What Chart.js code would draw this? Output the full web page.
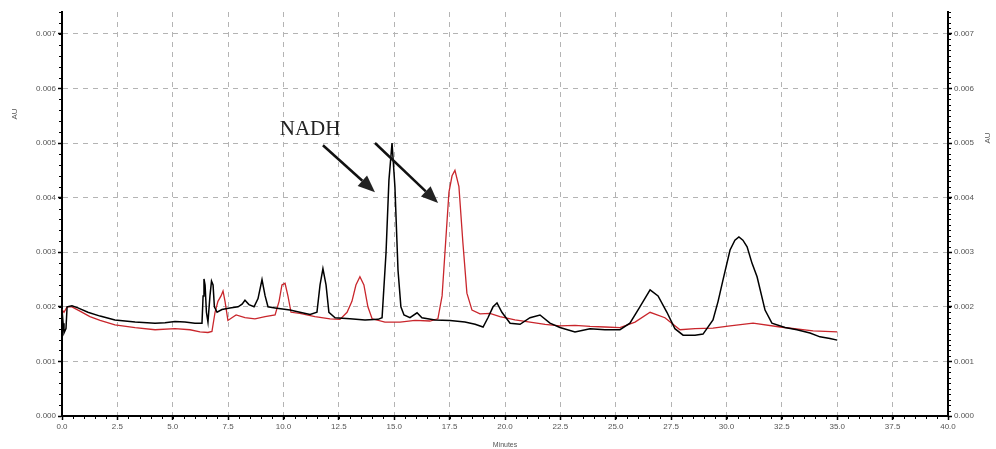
<!DOCTYPE html>
<html>
<head>
<meta charset="utf-8">
<script src="https://cdn.jsdelivr.net/npm/chart.js@4.4.1/dist/chart.umd.min.js"></script>
<style>
  html, body { margin: 0; padding: 0; background: #fff; }
  #wrap { width: 996px; height: 449px; position: relative; }
</style>
</head>
<body>
<div id="wrap"><canvas id="chart"></canvas></div>
<script>
// Chromatogram: two runs, absorbance (AU) vs retention time (minutes)

// black run
const blackTime = [0, 0.05, 0.09, 0.18, 0.23, 0.45, 0.72, 1.17, 1.72, 2.39, 3.3, 4.2, 4.65, 5.1, 5.55, 6.0,
  6.32, 6.37, 6.41, 6.46, 6.52, 6.59, 6.68, 6.75, 6.82, 6.88, 7.0, 7.22, 7.58, 7.95, 8.13, 8.26, 8.44, 8.67,
  8.85, 9.03, 9.17, 9.3, 9.62, 10.29, 10.74, 11.2, 11.51, 11.65, 11.78, 11.92, 12.05, 12.33, 13.0, 13.68,
  14.27, 14.45, 14.63, 14.76, 14.9, 15.03, 15.17, 15.3, 15.44, 15.71, 16.03, 16.25, 16.84, 17.52, 18.19,
  18.65, 19.01, 19.23, 19.46, 19.64, 19.86, 20.23, 20.68, 21.13, 21.58, 22.03, 22.48, 23.16, 23.84, 24.51,
  25.19, 25.64, 26.09, 26.55, 26.91, 27.31, 27.67, 28.04, 28.58, 28.94, 29.39, 29.62, 29.84, 30.16, 30.38,
  30.56, 30.74, 30.93, 31.15, 31.38, 31.74, 32.05, 32.64, 33.18, 33.77, 34.22, 34.67, 35.0];
const blackAU = [0.00195, 0.0017, 0.00152, 0.0016, 0.0020, 0.00202, 0.00198, 0.0019, 0.00183, 0.00176,
  0.00172, 0.0017, 0.00171, 0.00173, 0.00172, 0.0017, 0.0017, 0.0022, 0.00251, 0.0024, 0.0019, 0.00172,
  0.0022, 0.00247, 0.0024, 0.0020, 0.0019, 0.00195, 0.00198, 0.002, 0.00205, 0.00212, 0.00204, 0.002,
  0.00215, 0.0025, 0.0022, 0.002, 0.00198, 0.00194, 0.0019, 0.00186, 0.0019, 0.0024, 0.0027, 0.0024, 0.0019,
  0.0018, 0.00178, 0.00176, 0.00177, 0.0018, 0.0030, 0.00432, 0.0050, 0.0042, 0.00267, 0.0020, 0.00185,
  0.0018, 0.00189, 0.0018, 0.00176, 0.00175, 0.00172, 0.00168, 0.00163, 0.0018, 0.002, 0.00207, 0.0019,
  0.0017, 0.00168, 0.0018, 0.00185, 0.0017, 0.00162, 0.00154, 0.0016, 0.00158, 0.00158, 0.0017, 0.002,
  0.00231, 0.0022, 0.0019, 0.0016, 0.00148, 0.00148, 0.0015, 0.00176, 0.0021, 0.00249, 0.00304, 0.00322,
  0.00328, 0.00322, 0.0031, 0.0028, 0.00255, 0.00194, 0.0017, 0.00162, 0.00158, 0.00152, 0.00145, 0.00142,
  0.00139];

// red run
const redTime = [0, 0.09, 0.23, 0.45, 0.81, 1.26, 1.72, 2.39, 3.3, 4.2, 5.1, 5.78, 6.23, 6.59, 6.77, 6.91,
  7.04, 7.18, 7.27, 7.36, 7.49, 7.67, 7.86, 8.26, 8.71, 9.17, 9.62, 9.8, 9.93, 10.07, 10.2, 10.34, 10.74,
  11.42, 12.1, 12.55, 12.87, 13.09, 13.27, 13.45, 13.63, 13.81, 14.0, 14.58, 15.26, 15.94, 16.61, 16.97,
  17.16, 17.29, 17.47, 17.61, 17.74, 17.92, 18.1, 18.28, 18.51, 18.87, 19.32, 19.77, 20.45, 21.13, 21.81,
  22.48, 23.16, 23.84, 24.51, 25.19, 25.87, 26.55, 27.22, 27.9, 28.58, 29.39, 30.16, 31.2, 32.42, 33.91, 35.0];
const redAU = [0.00195, 0.0019, 0.002, 0.002, 0.00192, 0.00182, 0.00175, 0.00167, 0.00162, 0.00158, 0.0016,
  0.00158, 0.00154, 0.00153, 0.00155, 0.0019, 0.0021, 0.0022, 0.00229, 0.0021, 0.00175, 0.0018, 0.00185,
  0.0018, 0.00178, 0.00182, 0.00185, 0.0021, 0.0024, 0.00243, 0.0022, 0.0019, 0.00188, 0.00182, 0.00178,
  0.00177, 0.0019, 0.0021, 0.0024, 0.00255, 0.0024, 0.002, 0.00178, 0.00172, 0.00172, 0.00175, 0.00174,
  0.00178, 0.0022, 0.003, 0.0041, 0.0044, 0.0045, 0.0042, 0.00317, 0.00225, 0.00194, 0.00187, 0.00188,
  0.00182, 0.00176, 0.00172, 0.00168, 0.00165, 0.00166, 0.00164, 0.00163, 0.00162, 0.00172, 0.0019, 0.0018,
  0.00158, 0.0016, 0.00161, 0.00165, 0.0017, 0.00163, 0.00156, 0.00154];

// axes
const xRange = [0, 40];
const xStep = 2.5;
const yRange = [0, 0.0074];
const yStep = 0.001;
const xTitle = 'Minutes';
const yTitle = 'AU';

// annotation (data coordinates)
const noteText = 'NADH';
const notePos = [11.2, 0.00524];
const noteArrows = [
  [11.78, 0.00496, 14.13, 0.0041],
  [14.13, 0.0050, 16.98, 0.0039]
];

const zip = (t, v) => t.map((x, i) => ({ x: x, y: v[i] }));

const tickFont = { family: 'Liberation Sans, Arial, sans-serif', size: 8 };
const tickColor = '#555';
const gridColor = '#b4b4b4';

// fixed axis sizes so the plot area sits where the original one does
function fixWidth(w) { return s => { s.width = w; }; }

const minorTicks = {
  id: 'minorTicks',
  afterDraw(chart) {
    const ctx = chart.ctx;
    const x = chart.scales.x, yl = chart.scales.y, yr = chart.scales.y2;
    const area = chart.chartArea;
    ctx.save();
    ctx.strokeStyle = '#000';
    ctx.lineWidth = 1;
    ctx.beginPath();
    for (let v = 0; v <= xRange[1] + 1e-9; v += 0.5) {
      const px = Math.round(x.getPixelForValue(v)) + 0.5;
      ctx.moveTo(px, area.bottom);
      ctx.lineTo(px, area.bottom + 3);
    }
    for (let v = 0; v <= yRange[1] + 1e-9; v += 0.0002) {
      const py = Math.round(yl.getPixelForValue(v)) + 0.5;
      ctx.moveTo(area.left - 3, py);
      ctx.lineTo(area.left, py);
    }
    for (let v = 0; v <= yRange[1] + 1e-9; v += 0.0001) {
      const py = Math.round(yr.getPixelForValue(v)) + 0.5;
      ctx.moveTo(area.right, py);
      ctx.lineTo(area.right + 3, py);
    }
    ctx.stroke();

    // side titles
    ctx.fillStyle = tickColor;
    ctx.font = '8px "Liberation Sans", Arial, sans-serif';
    ctx.textAlign = 'center';
    ctx.textBaseline = 'middle';
    ctx.save();
    ctx.translate(15, 114);
    ctx.rotate(-Math.PI / 2);
    ctx.fillText(yTitle, 0, 0);
    ctx.restore();
    ctx.save();
    ctx.translate(988, 138);
    ctx.rotate(-Math.PI / 2);
    ctx.fillText(yTitle, 0, 0);
    ctx.restore();
    ctx.restore();
  }
};

const annotation = {
  id: 'annotation',
  afterDatasetsDraw(chart) {
    const ctx = chart.ctx;
    const x = chart.scales.x, y = chart.scales.y;
    ctx.save();
    ctx.fillStyle = '#222';
    ctx.font = '21px "Liberation Serif", "Times New Roman", serif';
    ctx.textAlign = 'center';
    ctx.textBaseline = 'middle';
    ctx.fillText(noteText, x.getPixelForValue(notePos[0]), y.getPixelForValue(notePos[1]));

    ctx.strokeStyle = '#111';
    ctx.lineWidth = 2.5;
    noteArrows.forEach(a => {
      const x1 = x.getPixelForValue(a[0]), y1 = y.getPixelForValue(a[1]);
      const x2 = x.getPixelForValue(a[2]), y2 = y.getPixelForValue(a[3]);
      const ang = Math.atan2(y2 - y1, x2 - x1);
      const len = 17, half = 7;
      const bx = x2 - len * Math.cos(ang), by = y2 - len * Math.sin(ang);
      ctx.beginPath();
      ctx.moveTo(x1, y1);
      ctx.lineTo(bx, by);
      ctx.stroke();
      ctx.beginPath();
      ctx.moveTo(x2, y2);
      ctx.lineTo(bx + half * Math.sin(ang), by - half * Math.cos(ang));
      ctx.lineTo(bx - half * Math.sin(ang), by + half * Math.cos(ang));
      ctx.closePath();
      ctx.fill();
    });
    ctx.restore();
  }
};

new Chart(document.getElementById('chart'), {
  type: 'line',
  data: {
    datasets: [
      {
        label: 'black',
        data: zip(blackTime, blackAU),
        borderColor: '#000',
        borderWidth: 1.5,
        pointRadius: 0,
        tension: 0
      },
      {
        label: 'red',
        data: zip(redTime, redAU),
        borderColor: '#c9262c',
        borderWidth: 1.3,
        pointRadius: 0,
        tension: 0
      }
    ]
  },
  options: {
    responsive: true,
    maintainAspectRatio: false,
    animation: false,
    layout: { padding: { top: 12, left: 0, right: 0, bottom: 0 } },
    plugins: {
      legend: { display: false },
      tooltip: { enabled: false }
    },
    scales: {
      x: {
        type: 'linear',
        min: xRange[0],
        max: xRange[1],
        afterFit: s => { s.height = 33; },
        ticks: {
          stepSize: xStep,
          font: tickFont,
          color: tickColor,
          padding: 2,
          maxRotation: 0,
          callback: v => v.toFixed(1)
        },
        grid: {
          color: ctx => (ctx.tick && (ctx.tick.value === 0 || ctx.tick.value === 40)) ? 'rgba(0,0,0,0)' : gridColor,
          lineWidth: 1,
          tickColor: '#000',
          tickLength: 4,
          tickWidth: 1.5
        },
        border: { color: '#000', width: 2, dash: [5, 5] },
        title: {
          display: true,
          text: xTitle,
          font: { family: 'Liberation Sans, Arial, sans-serif', size: 7 },
          color: tickColor,
          padding: { top: 0, bottom: 0 }
        }
      },
      y: {
        type: 'linear',
        position: 'left',
        min: yRange[0],
        max: yRange[1],
        afterFit: fixWidth(62),
        ticks: {
          stepSize: yStep,
          includeBounds: false,
          font: tickFont,
          color: tickColor,
          padding: 2,
          callback: v => v.toFixed(3)
        },
        grid: {
          color: ctx => (ctx.tick && ctx.tick.value === 0) ? 'rgba(0,0,0,0)' : gridColor,
          lineWidth: 1,
          tickColor: '#000',
          tickLength: 4,
          tickWidth: 1.5
        },
        border: { color: '#000', width: 2, dash: [5, 5] }
      },
      y2: {
        type: 'linear',
        position: 'right',
        min: yRange[0],
        max: yRange[1],
        afterFit: fixWidth(48),
        ticks: {
          stepSize: yStep,
          includeBounds: false,
          font: tickFont,
          color: tickColor,
          padding: 2,
          callback: v => v.toFixed(3)
        },
        grid: {
          drawOnChartArea: false,
          tickColor: '#000',
          tickLength: 4,
          tickWidth: 1.5
        },
        border: { color: '#000', width: 2 }
      }
    }
  },
  plugins: [minorTicks, annotation]
});
</script>
</body>
</html>
